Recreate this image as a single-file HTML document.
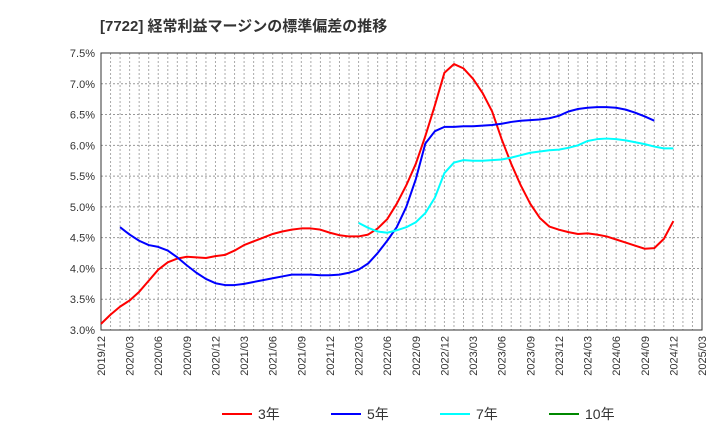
<!DOCTYPE html>
<html><head><meta charset="utf-8"><style>
body{margin:0;background:#fff;font-family:"Liberation Sans","Noto Sans CJK JP",sans-serif}
svg text{font-family:"Liberation Sans","Noto Sans CJK JP",sans-serif}
</style></head><body>
<svg id="c" width="720" height="440" xmlns="http://www.w3.org/2000/svg">
<text x="100" y="31" font-size="15" font-weight="bold" fill="#333">[7722]  経常利益マージンの標準偏差の推移</text>
<g id="grid"></g><g id="axes"></g><g id="series"></g><g id="legend"></g>
</svg>
<script>
const xLabels=["2019/12","2020/03","2020/06","2020/09","2020/12","2021/03","2021/06","2021/09","2021/12","2022/03","2022/06","2022/09","2022/12","2023/03","2023/06","2023/09","2023/12","2024/03","2024/06","2024/09","2024/12","2025/03"];
const yTicks=[3.0,3.5,4.0,4.5,5.0,5.5,6.0,6.5,7.0,7.5];
const s3=[3.1,3.25,3.38,3.48,3.62,3.8,3.98,4.1,4.16,4.19,4.18,4.17,4.2,4.22,4.29,4.38,4.44,4.5,4.56,4.6,4.63,4.65,4.65,4.63,4.58,4.54,4.52,4.52,4.55,4.65,4.8,5.05,5.35,5.7,6.15,6.65,7.18,7.32,7.25,7.08,6.85,6.55,6.1,5.7,5.35,5.05,4.82,4.68,4.63,4.59,4.56,4.57,4.55,4.52,4.47,4.42,4.37,4.32,4.33,4.48,4.77];
const s3start=0;
const s5=[4.67,4.55,4.45,4.38,4.35,4.29,4.18,4.05,3.93,3.83,3.76,3.73,3.73,3.75,3.78,3.81,3.84,3.87,3.9,3.9,3.9,3.89,3.89,3.9,3.93,3.98,4.08,4.25,4.45,4.67,5.0,5.45,6.03,6.23,6.3,6.3,6.31,6.31,6.32,6.33,6.35,6.38,6.4,6.41,6.42,6.44,6.48,6.55,6.59,6.61,6.62,6.62,6.61,6.58,6.53,6.47,6.4];
const s5start=3;
const s7=[4.74,4.66,4.6,4.58,4.62,4.67,4.75,4.9,5.15,5.55,5.72,5.76,5.75,5.75,5.76,5.77,5.8,5.84,5.88,5.9,5.92,5.93,5.96,6.0,6.07,6.1,6.11,6.1,6.08,6.05,6.02,5.98,5.95,5.95];
const s7start=27;
const L=101,R=702,T=53,B=330,NM=63;
const x=m=>L+m*(R-L)/NM;
const y=v=>B-(v-3)*(B-T)/4.5;
const NS="http://www.w3.org/2000/svg";
function mk(t,p,a){const e=document.createElementNS(NS,t);for(const k in a)e.setAttribute(k,a[k]);p.appendChild(e);return e;}
const g=document.getElementById('grid'),ax=document.getElementById('axes'),se=document.getElementById('series'),lg=document.getElementById('legend');
for(let m=1;m<NM;m++){const l=mk('line',g,{x1:x(m),x2:x(m),y1:T,y2:B,stroke:'#aaa','stroke-dasharray':'2,2','stroke-width':1});

}
yTicks.forEach(v=>{const l=mk('line',g,{x1:L,x2:R,y1:y(v),y2:y(v),stroke:'#999','stroke-dasharray':'2,2','stroke-width':1});


const t=mk('text',ax,{x:L-6,y:y(v)+4,'text-anchor':'end','font-size':11,fill:'#333'});t.textContent=v.toFixed(1)+'%';

});
xLabels.forEach((s,i)=>{const xx=x(i*3);const t=mk('text',ax,{x:xx+4,y:B+6,'text-anchor':'end','font-size':11,fill:'#333',transform:`rotate(-90 ${xx+4} ${B+6})`});t.textContent=s;

});
const fr=mk('rect',ax,{x:L,y:T,width:R-L,height:B-T,fill:'none',stroke:'#333','stroke-width':1});


function line(d,st,c,name){const p=mk('polyline',se,{points:d.map((v,i)=>x(st+i)+','+y(v)).join(' '),fill:'none',stroke:c,'stroke-width':2,'stroke-linejoin':'round'});

}
line(s3,s3start,'#f00','series-3y');
line(s5,s5start+1>0?s5start-1:s5start,'#00f','series-5y');
line(s7,s7start,'#0ff','series-7y');
const leg=[['3年','#f00',222],['5年','#00f',331],['7年','#0ff',440],['10年','#080',549]];
leg.forEach(([n,c,lx])=>{const l=mk('line',lg,{x1:lx,x2:lx+30,y1:414,y2:414,stroke:c,'stroke-width':2});


const t=mk('text',lg,{x:lx+36,y:419,'font-size':14,fill:'#333'});t.textContent=n;

});
</script>
</body></html>
